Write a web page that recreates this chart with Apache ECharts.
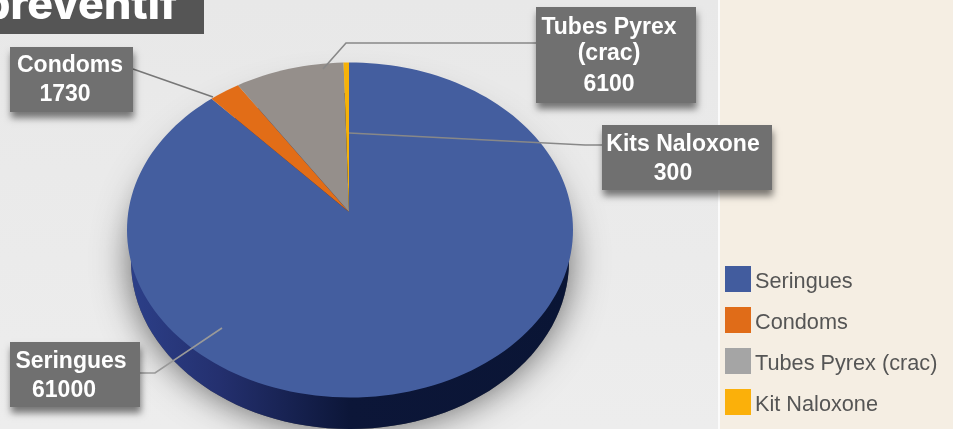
<!DOCTYPE html>
<html>
<head>
<meta charset="utf-8">
<script src="https://cdn.jsdelivr.net/npm/echarts@6/dist/echarts.min.js"></script>
<style>
  html, body { margin: 0; padding: 0; background: #f5eee3; }
  #main { width: 953px; height: 429px; }
</style>
</head>
<body>
<div id="main"></div>
<script>
const legendNames = ['Seringues', 'Condoms', 'Tubes Pyrex (crac)', 'Kit Naloxone']
const values = [61000, 1730, 6100, 300]
const labelLines = [
  ['Seringues', '61000'],
  ['Condoms', '1730'],
  ['Tubes Pyrex', '(crac)', '6100'],
  ['Kits Naloxone', '300']
]
const legendColors = ['#425c9e', '#e06c18', '#a5a5a5', '#fbb00a']
const sliceColors = ['#445e9f', '#e26d17', '#958f8b', '#f6b209']

// pie drawn tilted: the apex sits above the centre of the rim ellipse
const apex = { x: 349, y: 212 }
const rim = { cx: 350, cy: 230, rx: 223, ry: 167.5 }
const base = { cx: 350, cy: 261, rx: 219, ry: 168 }

// callout boxes, one per slice
const boxes = [
  { rect: [10, 342, 130, 65], line: [[222, 328], [155, 373], [140, 373]], lineColor: '#999', text: [[71, 362], [64, 391]] },
  { rect: [10, 47, 123, 65], line: [[213, 97], [133, 69]], lineColor: '#777', text: [[70, 66], [65, 95]] },
  { rect: [536, 7, 160, 96], line: [[323, 69], [346, 43], [536, 43]], lineColor: '#888', text: [[609, 28], [609, 54], [609, 85]] },
  { rect: [602, 125, 170, 65], line: [[349, 133], [585, 145], [602, 145]], lineColor: '#888', text: [[683, 145], [673, 174]] }
]

const total = values.reduce((a, b) => a + b, 0)

// point where the ray of a given pie angle leaves the rim ellipse
function rimPoint (deg) {
  const a = deg * Math.PI / 180
  const dx = Math.sin(a) * rim.rx
  const dy = -Math.cos(a) * rim.ry
  const ox = (apex.x - rim.cx) / rim.rx
  const oy = (apex.y - rim.cy) / rim.ry
  const ux = dx / rim.rx
  const uy = dy / rim.ry
  const A = ux * ux + uy * uy
  const B = 2 * (ox * ux + oy * uy)
  const C = ox * ox + oy * oy - 1
  const t = (-B + Math.sqrt(B * B - 4 * A * C)) / (2 * A)
  return [apex.x + dx * t, apex.y + dy * t]
}

function slicePoints (from, to) {
  const pts = [[apex.x, apex.y]]
  const n = Math.max(2, Math.ceil((to - from) / 2))
  for (let i = 0; i <= n; i++) {
    pts.push(rimPoint(from + (to - from) * i / n))
  }
  return pts
}

function boxElements (idx) {
  const b = boxes[idx]
  const els = [{
    type: 'polyline',
    shape: { points: b.line },
    style: { stroke: b.lineColor, lineWidth: 1.6, fill: null },
    z2: 20
  }, {
    type: 'rect',
    shape: { x: b.rect[0], y: b.rect[1], width: b.rect[2], height: b.rect[3] },
    style: {
      fill: '#707070',
      shadowBlur: 7,
      shadowOffsetX: 1,
      shadowOffsetY: 6,
      shadowColor: 'rgba(0,0,0,0.5)'
    },
    z2: 21
  }]
  labelLines[idx].forEach((line, i) => {
    els.push({
      type: 'text',
      style: {
        text: line,
        x: b.text[i][0],
        y: b.text[i][1],
        align: 'center',
        verticalAlign: 'middle',
        fill: '#fff',
        font: 'bold 23px "Liberation Sans", Arial, sans-serif'
      },
      z2: 22
    })
  })
  return els
}

function bodyElements () {
  return [{
    type: 'ellipse',
    shape: base,
    style: {
      fill: '#555',
      shadowBlur: 36,
      shadowColor: 'rgba(0,0,0,0.6)'
    },
    z2: 1
  }, {
    type: 'ellipse',
    shape: base,
    style: {
      fill: {
        type: 'linear', x: 0, y: 0, x2: 1, y2: 0,
        colorStops: [
          { offset: 0, color: '#2c3f88' },
          { offset: 0.2, color: '#24306f' },
          { offset: 0.5, color: '#0c1638' },
          { offset: 1, color: '#0a1535' }
        ]
      }
    },
    z2: 2
  }]
}

function makeSeries (idx) {
  return {
    type: 'custom',
    name: legendNames[idx],
    coordinateSystem: 'none',
    silent: true,
    itemStyle: { color: legendColors[idx] },
    data: [[values[idx]]],
    z: idx === 0 ? 2 : 3,
    renderItem: function (params, api) {
      const before = values.slice(0, idx).reduce((a, b) => a + b, 0)
      const from = before / total * 360
      const to = from + api.value(0) / total * 360
      const slice = {
        type: 'polygon',
        shape: { points: slicePoints(from, to) },
        style: { fill: sliceColors[idx] },
        z2: 5
      }
      const children = (idx === 0 ? bodyElements() : []).concat([slice], boxElements(idx))
      return { type: 'group', children: children }
    }
  }
}

const chart = echarts.init(document.getElementById('main'))
chart.setOption({
  animation: false,
  backgroundColor: '#f5eee3',
  graphic: [
    {
      type: 'rect',
      z: 0,
      shape: { x: 0, y: 0, width: 718, height: 429 },
      style: {
        fill: {
          type: 'linear', x: 0, y: 0, x2: 0, y2: 1,
          colorStops: [{ offset: 0, color: '#e8e8e8' }, { offset: 1, color: '#ededed' }]
        }
      }
    },
    { type: 'rect', z: 0, shape: { x: 718, y: 0, width: 2, height: 429 }, style: { fill: '#fbfbfb' } },
    { type: 'rect', z: 0, shape: { x: 0, y: 0, width: 204, height: 34 }, style: { fill: '#555555' } },
    {
      type: 'text',
      z: 1,
      style: {
        text: 'préventif',
        x: -17,
        y: -15,
        fill: '#fff',
        font: '800 43px Inter, sans-serif'
      }
    }
  ],
  legend: {
    data: legendNames,
    orient: 'vertical',
    left: 725,
    top: 266,
    padding: 0,
    itemWidth: 26,
    itemHeight: 26,
    itemGap: 14,
    icon: 'rect',
    selectedMode: false,
    formatter: function (name) {
      return '{a|' + name + '}'
    },
    textStyle: {
      rich: {
        a: {
          color: '#555',
          fontSize: 21.7,
          padding: [6, 0, 0, -1],
          fontFamily: '"Liberation Sans", Arial, sans-serif'
        }
      }
    }
  },
  series: [0, 1, 2, 3].map(makeSeries)
})
</script>
</body>
</html>
